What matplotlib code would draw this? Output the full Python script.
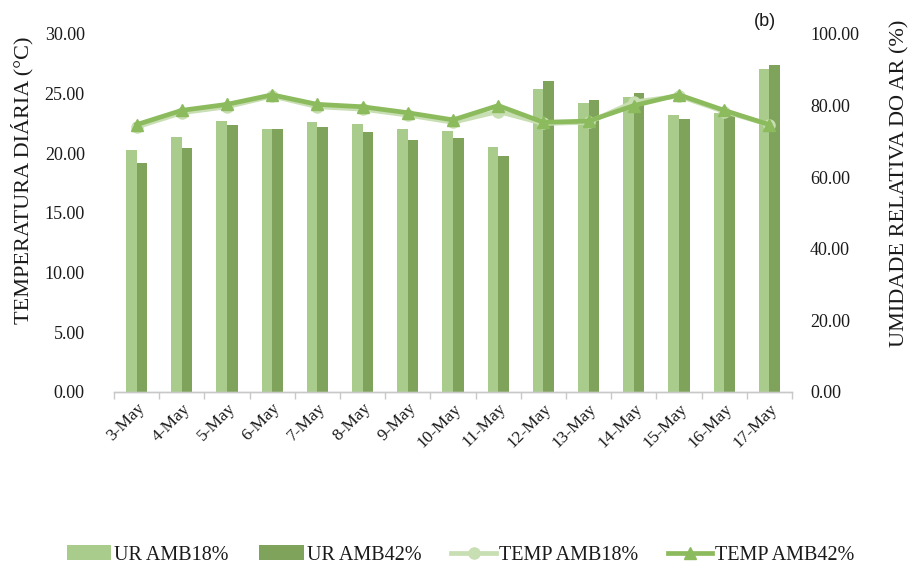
import numpy as np
import matplotlib
matplotlib.use("Agg")
import matplotlib.pyplot as plt
from matplotlib.ticker import FormatStrFormatter, FixedLocator

# Daily data, 3-17 May
days = ["3-May", "4-May", "5-May", "6-May", "7-May", "8-May", "9-May", "10-May",
        "11-May", "12-May", "13-May", "14-May", "15-May", "16-May", "17-May"]

ur_amb18 = [67.6, 71.3, 75.8, 73.5, 75.4, 74.9, 73.5, 72.9,
            68.4, 84.6, 80.8, 82.4, 77.5, 77.8, 90.2]
ur_amb42 = [64.1, 68.1, 74.7, 73.5, 74.1, 72.7, 70.4, 70.9,
            66.0, 87.0, 81.5, 83.4, 76.2, 77.8, 91.3]

temp_amb18 = [22.2, 23.4, 23.9, 24.8, 23.9, 23.7, 23.2, 22.6,
              23.5, 22.5, 22.6, 24.3, 24.8, 23.5, 22.4]
temp_amb42 = [22.4, 23.6, 24.1, 24.9, 24.1, 23.9, 23.4, 22.8,
              24.0, 22.6, 22.7, 24.0, 24.9, 23.6, 22.4]

temp_ticks = [0, 5, 10, 15, 20, 25, 30]
ur_ticks = [0, 20, 40, 60, 80, 100]

C_BAR18 = "#a9cb8b"
C_BAR42 = "#7fa35a"
C_LINE18 = "#c8deb3"
C_LINE42 = "#8cbb5e"
TXT = "#1a1a1a"
SERIF = "Liberation Serif"

fig = plt.figure(figsize=(9.11, 5.71), dpi=100)
ax = fig.add_axes([0.1251, 0.3135, 0.8694 - 0.1251, 0.9405 - 0.3135])
ax2 = ax.twinx()

x = np.arange(len(days))
w = 0.236

# humidity bars on the right-hand axis
b1 = ax2.bar(x - w / 2, ur_amb18, width=w, color=C_BAR18, label="UR AMB18%")
b2 = ax2.bar(x + w / 2, ur_amb42, width=w, color=C_BAR42, label="UR AMB42%")

# temperature lines on the left-hand axis, drawn above the bars
l1, = ax.plot(x, temp_amb18, color=C_LINE18, lw=3.4, marker="o", ms=8,
              label="TEMP AMB18%")
l2, = ax.plot(x, temp_amb42, color=C_LINE42, lw=3.4, marker="^", ms=8,
              label="TEMP AMB42%")
ax.set_zorder(ax2.get_zorder() + 1)
ax.patch.set_visible(False)

ax.set_xlim(-0.5, len(days) - 0.5)
ax.set_ylim(0, 30)
ax2.set_ylim(0, 100)

ax.yaxis.set_major_locator(FixedLocator(temp_ticks))
ax.yaxis.set_major_formatter(FormatStrFormatter("%.2f"))
ax2.yaxis.set_major_locator(FixedLocator(ur_ticks))
ax2.yaxis.set_major_formatter(FormatStrFormatter("%.2f"))

for a in (ax, ax2):
    for s in ("top", "left", "right"):
        a.spines[s].set_visible(False)
    a.spines["bottom"].set_color("#c8c8c8")
    a.spines["bottom"].set_linewidth(1.0)

ax.tick_params(axis="y", length=0, pad=21, labelsize=13, labelcolor=TXT)
ax2.tick_params(axis="y", length=0, pad=13, labelsize=13, labelcolor=TXT)
for lab in ax.get_yticklabels() + ax2.get_yticklabels():
    lab.set_fontfamily(SERIF)

# category labels under the bars, tick marks between categories
ax.set_xticks(x)
ax.set_xticklabels(days, rotation=45, ha="right", va="top",
                   rotation_mode="anchor", fontsize=12.5, color=TXT,
                   fontfamily=SERIF)
ax.tick_params(axis="x", which="major", length=0, pad=6)
ax.set_xticks(np.arange(len(days) + 1) - 0.5, minor=True)
ax.tick_params(axis="x", which="minor", length=5, color="#c8c8c8", width=1)

fig.text(22 / 911, 1 - 180 / 571, "TEMPERATURA DIÁRIA (°C)", rotation=90,
         ha="center", va="center", fontsize=16, color=TXT, fontfamily=SERIF)
fig.text(900 / 911, 1 - 183 / 571, "UMIDADE RELATIVA DO AR (%)", rotation=90,
         ha="center", va="center", fontsize=16, color=TXT, fontfamily=SERIF)
fig.text(765 / 911, 1 - 22 / 571, "(b)", ha="center", va="center",
         fontsize=13, color=TXT, fontfamily="Liberation Sans")

fig.legend(handles=[b1, b2, l1, l2], loc="center",
           bbox_to_anchor=(461 / 911, 1 - 555 / 571), ncol=4, frameon=False,
           prop={"family": SERIF, "size": 14.5}, handlelength=2.2,
           handletextpad=0.15, columnspacing=1.5, labelcolor=TXT)

fig.savefig("out.png", dpi=100, facecolor="white")
